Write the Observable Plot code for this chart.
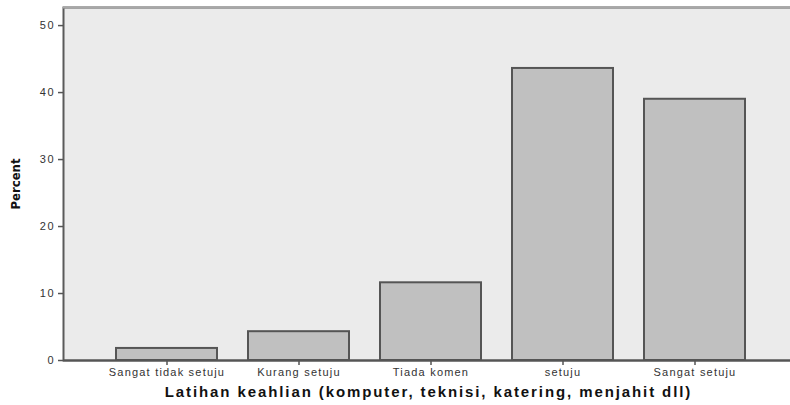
<!DOCTYPE html>
<html>
<head>
<meta charset="utf-8">
<script src="https://cdn.jsdelivr.net/npm/d3@7"></script>
<script src="https://cdn.jsdelivr.net/npm/@observablehq/plot@0.6"></script>
<style>
  body { margin: 0; background: #fff; }
  #chart svg { display: block; font-family: "Liberation Sans", Arial, sans-serif; }
</style>
</head>
<body>
<div id="chart"></div>
<script>
const categories = ["Sangat tidak setuju", "Kurang setuju", "Tiada komen", "setuju", "Sangat setuju"];
const percents = [1.8, 4.3, 11.6, 43.6, 39.0];
const yTicks = [0, 10, 20, 30, 40, 50];
const yMax = 52.7;
const xTitle = "Latihan keahlian (komputer, teknisi, katering, menjahit dll)";
const yTitle = "Percent";

const data = categories.map((c, i) => ({category: c, percent: percents[i]}));

const chart = Plot.plot({
  width: 790,
  height: 405,
  marginLeft: 63,
  marginRight: -3,
  marginTop: 7,
  marginBottom: 45,
  style: {background: "#fff", overflow: "visible"},
  x: {domain: categories, range: [115, 745], paddingInner: 0.236, paddingOuter: 0, axis: null},
  y: {domain: [0, yMax], axis: null},
  marks: [
    Plot.frame({fill: "#ebebeb", stroke: "#5a5a5a", strokeWidth: 2}),
    Plot.ruleY([yMax], {stroke: "#a8a8a8", strokeWidth: 2}),
    Plot.barY(data, {x: "category", y: "percent", fill: "#c0c0c0", stroke: "#555", strokeWidth: 2}),
    Plot.ruleY([0], {stroke: "#555", strokeWidth: 2}),
    Plot.axisY({ticks: yTicks, tickSize: 5, tickPadding: 3, stroke: "#555", strokeWidth: 1.5, fill: "#333", fontSize: 11, label: null}),
    Plot.axisX({tickSize: 5, tickPadding: 3, stroke: "#555", strokeWidth: 1.5, fill: "#333", fontSize: 11, label: null}),
    Plot.text([xTitle], {frameAnchor: "bottom", lineAnchor: "middle", dy: 32, fontSize: 15, fontWeight: "bold", fill: "#111", text: d => d}),
    Plot.text([yTitle], {frameAnchor: "left", textAnchor: "middle", dx: -48, rotate: -90, fontSize: 13, fontWeight: "bold", fill: "#111", fontFamily: "'Liberation Sans Narrow', 'DejaVu Sans Condensed', sans-serif", text: d => d})
  ]
});

// letter spacing to match the wide rendering of the reference
d3.select(chart).selectAll("text").each(function() {
  const t = this.textContent;
  const sel = d3.select(this);
  if (t === xTitle) sel.style("letter-spacing", "1.9px");
  else if (categories.includes(t)) sel.style("letter-spacing", "1.2px");
  else if (/^\d+$/.test(t)) sel.style("letter-spacing", "1.8px");
});

document.getElementById("chart").appendChild(chart);
</script>
</body>
</html>
